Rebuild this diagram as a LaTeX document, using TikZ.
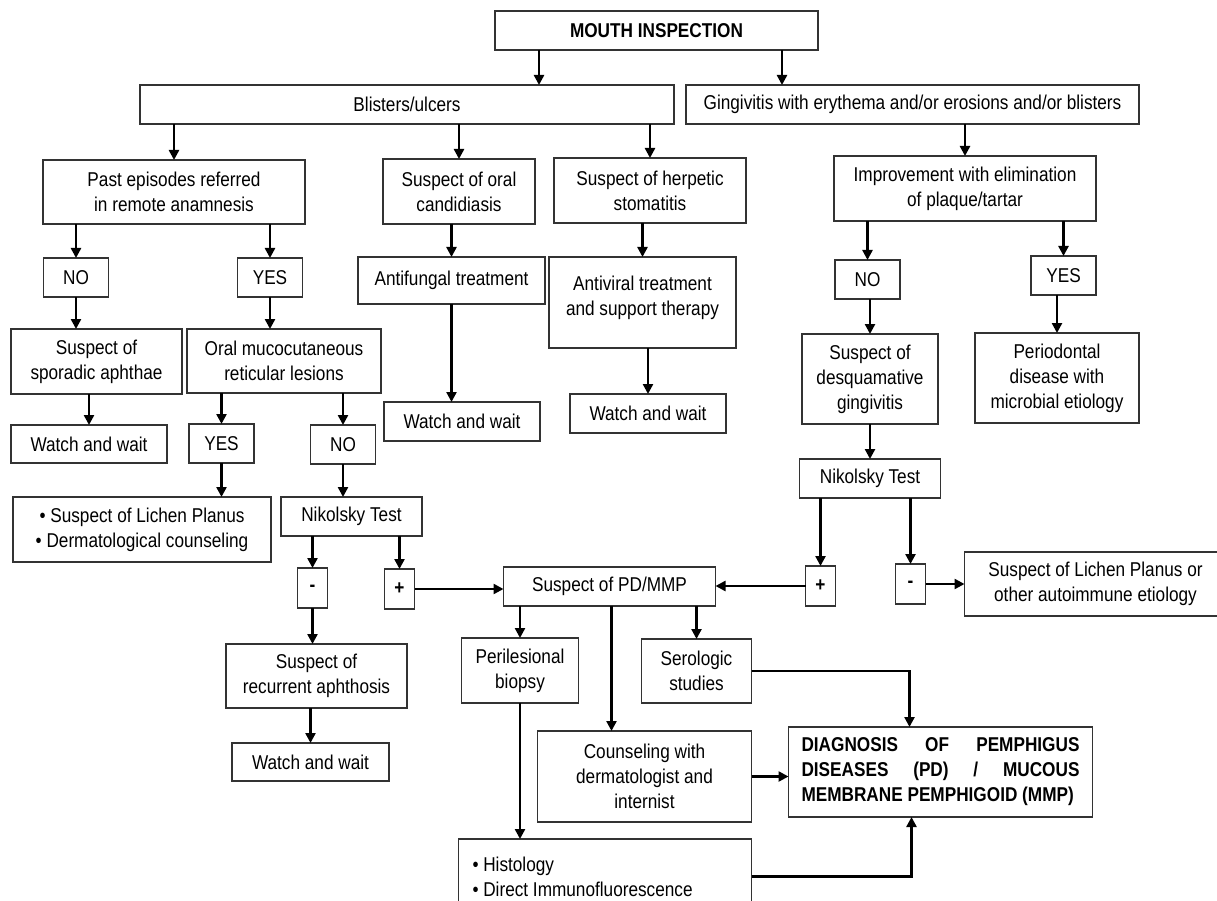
\documentclass[tikz,border=0pt]{standalone}
\usepackage{fontspec}
\setmainfont{Liberation Sans}[FakeStretch=0.86]
\usetikzlibrary{arrows.meta,positioning}

\begin{document}
\begin{tikzpicture}[
    x=1pt, y=1pt,
    box/.style={rectangle, draw=black!80, line width=1.2pt, align=center, inner sep=2pt, outer sep=0pt, font=\fontsize{20pt}{25pt}\selectfont},
    ans/.style={box, minimum width=65pt, minimum height=39pt},
    sign/.style={box, minimum width=30pt, minimum height=40pt, font=\fontsize{20pt}{25pt}\selectfont\bfseries},
    arrow/.style={-{Triangle[length=10pt,width=10pt]}, line width=2.4pt}
]
    \useasboundingbox (0,0) rectangle (1217,-901);
    \clip (0,0) rectangle (1217,-901);

    % Inspection
    \node[box, minimum width=323pt, minimum height=39pt] (mouth) at (656.5,-30.5) {\textbf{MOUTH INSPECTION}};
    \node[box, minimum width=534pt, minimum height=39pt, below=35pt of mouth, xshift=-249.5pt] (blisters) {Blisters/ulcers};
    \node[box, minimum width=453pt, minimum height=39pt, below=35pt of mouth, xshift=256pt] (gingiv) {Gingivitis with erythema and/or erosions and/or blisters};

    % Blisters branch
    \node[box, minimum width=262pt, minimum height=64pt, below=36pt of blisters, xshift=-233pt] (past) {Past episodes referred\\in remote anamnesis};
    \node[box, minimum width=152pt, minimum height=65pt, below=35pt of blisters, xshift=52pt] (oralc) {Suspect of oral\\candidiasis};
    \node[box, minimum width=192pt, minimum height=65pt, below=34pt of blisters, xshift=243pt] (herp) {Suspect of herpetic\\stomatitis};
    \node[ans, below=34pt of past, xshift=-98pt] (no1) {NO};
    \node[ans, below=34pt of past, xshift=96pt] (yes1) {YES};
    \node[box, minimum width=187pt, minimum height=47pt, below=33pt of oralc, xshift=-7.5pt] (antif) {Antifungal treatment};
    \node[box, minimum width=187pt, minimum height=91pt, below=34pt of herp, xshift=-7.5pt] (antiv) {Antiviral treatment\\and support therapy\\[-12pt]\mbox{}};
    \node[box, minimum width=171pt, minimum height=65pt, below=32pt of no1, xshift=20.5pt] (sporadic) {Suspect of\\sporadic aphthae};
    \node[box, minimum width=194pt, minimum height=64pt, below=32pt of yes1, xshift=14pt] (oralm) {Oral mucocutaneous\\reticular lesions};
    \node[box, minimum width=156pt, minimum height=39pt, below=98pt of antif, xshift=10.5pt] (watchc) {Watch and wait};
    \node[box, minimum width=156pt, minimum height=39pt, below=46pt of antiv, xshift=5.5pt] (watchh) {Watch and wait};
    \node[box, minimum width=156pt, minimum height=38pt, below=31pt of sporadic, xshift=-7.5pt] (watch1) {Watch and wait};
    \node[ans, below=31pt of oralm, xshift=-62.5pt] (yes3) {YES};
    \node[ans, below=32pt of oralm, xshift=59pt] (no3) {NO};
    \node[box, minimum width=258pt, minimum height=65pt, below=34pt of yes3, xshift=-79.5pt] (lichen) {\textbullet{} Suspect of Lichen Planus\\\textbullet{} Dermatological counseling};
    \node[box, minimum width=141pt, minimum height=39pt, below=33pt of no3, xshift=8.5pt] (nik1) {Nikolsky Test};
    \node[sign, below=32pt of nik1, xshift=-39pt] (minus1) {-};
    \node[sign, below=33pt of nik1, xshift=48pt] (plus1) {+};
    \node[box, minimum width=181pt, minimum height=64pt, below=36pt of minus1, xshift=4pt] (recur) {Suspect of\\recurrent aphthosis};
    \node[box, minimum width=157pt, minimum height=38pt, below=35pt of recur, xshift=-6pt] (watch2) {Watch and wait};

    % Gingivitis branch
    \node[box, minimum width=262pt, minimum height=65pt, below=32pt of gingiv, xshift=52.5pt] (improv) {Improvement with elimination\\of plaque/tartar};
    \node[ans, below=39pt of improv, xshift=-97.5pt] (no2) {NO};
    \node[ans, below=35pt of improv, xshift=98.5pt] (yes2) {YES};
    \node[box, minimum width=136pt, minimum height=90pt, below=35pt of no2, xshift=2.5pt] (desq) {Suspect of\\desquamative\\gingivitis};
    \node[box, minimum width=164pt, minimum height=90pt, below=38pt of yes2, xshift=-6.5pt] (perio) {Periodontal\\disease with\\microbial etiology};
    \node[box, minimum width=141pt, minimum height=39pt, below=35pt of desq] (nik2) {Nikolsky Test};
    \node[sign, below=68pt of nik2, xshift=-49.5pt] (plus2) {+};
    \node[sign, below=66pt of nik2, xshift=40.5pt] (minus2) {-};
    \node[box, minimum width=262pt, minimum height=64pt, right=39pt of minus2] (lpor) {Suspect of Lichen Planus or\\other autoimmune etiology};

    % PD/MMP
    \node[box, minimum width=212pt, minimum height=39pt, right=89pt of plus1, yshift=2.5pt] (pd) {Suspect of PD/MMP};
    \node[box, minimum width=117pt, minimum height=65pt, below=32pt of pd, xshift=-89.5pt] (peril) {Perilesional\\biopsy};
    \node[box, minimum width=110pt, minimum height=64pt, below=33pt of pd, xshift=87pt] (serol) {Serologic\\studies};
    \node[box, minimum width=214pt, minimum height=91pt, below=125pt of pd, xshift=35pt] (couns) {Counseling with\\dermatologist and\\internist};
    \node[box, align=flush left, text width=265pt, inner xsep=14pt, minimum height=75pt, below=136pt of peril, xshift=85pt] (histo) {\textbullet{} Histology\\\textbullet{} Direct Immunofluorescence};
    \node[box, align=flush left, text width=278pt, inner xsep=13pt, minimum height=90pt, right=37pt of couns, yshift=4.5pt, font=\fontsize{20pt}{25pt}\selectfont\bfseries] (diag) {DIAGNOSIS\hfill OF\hfill PEMPHIGUS\\DISEASES\hfill (PD)\hfill /\hfill MUCOUS\\MEMBRANE PEMPHIGOID (MMP)};

    % Connections
    \draw[arrow] ([xshift=44pt]mouth.south west) -- ([xshift=44pt]mouth.south west |- blisters.north);
    \draw[arrow] ([xshift=-36pt]mouth.south east) -- ([xshift=-36pt]mouth.south east |- gingiv.north);
    \draw[arrow] (blisters.south -| past.north) -- (past.north);
    \draw[arrow] (blisters.south -| oralc.north) -- (oralc.north);
    \draw[arrow] (blisters.south -| herp.north) -- (herp.north);
    \draw[arrow] (gingiv.south -| improv.north) -- (improv.north);
    \draw[arrow] (past.south -| no1.north) -- (no1.north);
    \draw[arrow] (past.south -| yes1.north) -- (yes1.north);
    \draw[arrow] (oralc.south -| antif.north) -- (antif.north);
    \draw[arrow] (herp.south -| antiv.north) -- (antiv.north);
    \draw[arrow] (improv.south -| no2.north) -- (no2.north);
    \draw[arrow] (improv.south -| yes2.north) -- (yes2.north);
    \draw[arrow] (no1.south) -- (no1.south |- sporadic.north);
    \draw[arrow] (yes1.south) -- (yes1.south |- oralm.north);
    \draw[arrow] (antif.south) -- (antif.south |- watchc.north);
    \draw[arrow] (antiv.south -| watchh.north) -- (watchh.north);
    \draw[arrow] (no2.south -| desq.north) -- (desq.north);
    \draw[arrow] (yes2.south -| perio.north) -- (perio.north);
    \draw[arrow] (sporadic.south -| watch1.north) -- (watch1.north);
    \draw[arrow] (oralm.south -| yes3.north) -- (yes3.north);
    \draw[arrow] (oralm.south -| no3.north) -- (no3.north);
    \draw[arrow] (yes3.south) -- (yes3.south |- lichen.north);
    \draw[arrow] (no3.south) -- (no3.south |- nik1.north);
    \draw[arrow] (desq.south -| nik2.north) -- (nik2.north);
    \draw[arrow] (nik1.south -| minus1.north) -- (minus1.north);
    \draw[arrow] (nik1.south -| plus1.north) -- (plus1.north);
    \draw[arrow] (nik2.south -| plus2.north) -- (plus2.north);
    \draw[arrow] (nik2.south -| minus2.north) -- (minus2.north);
    \draw[arrow] (minus1.south) -- (minus1.south |- recur.north);
    \draw[arrow] (recur.south -| watch2.north) -- (watch2.north);
    \draw[arrow] (plus1.east) -- (plus1.east -| pd.west);
    \draw[arrow] (plus2.west) -- (plus2.west -| pd.east);
    \draw[arrow] (minus2.east) -- (minus2.east -| lpor.west);
    \draw[arrow] (pd.south -| peril.north) -- (peril.north);
    \draw[arrow] (pd.south -| serol.north) -- (serol.north);
    \draw[arrow] ([xshift=2pt]pd.south) -- ([xshift=2pt]pd.south |- couns.north);
    \draw[arrow] (peril.south) -- (peril.south |- histo.north);
    \draw[arrow] (serol.east) -| ([xshift=-31pt]diag.north);
    \draw[arrow] (couns.east) -- (couns.east -| diag.west);
    \draw[arrow] (histo.east) -| ([xshift=-29pt]diag.south);
\end{tikzpicture}
\end{document}
